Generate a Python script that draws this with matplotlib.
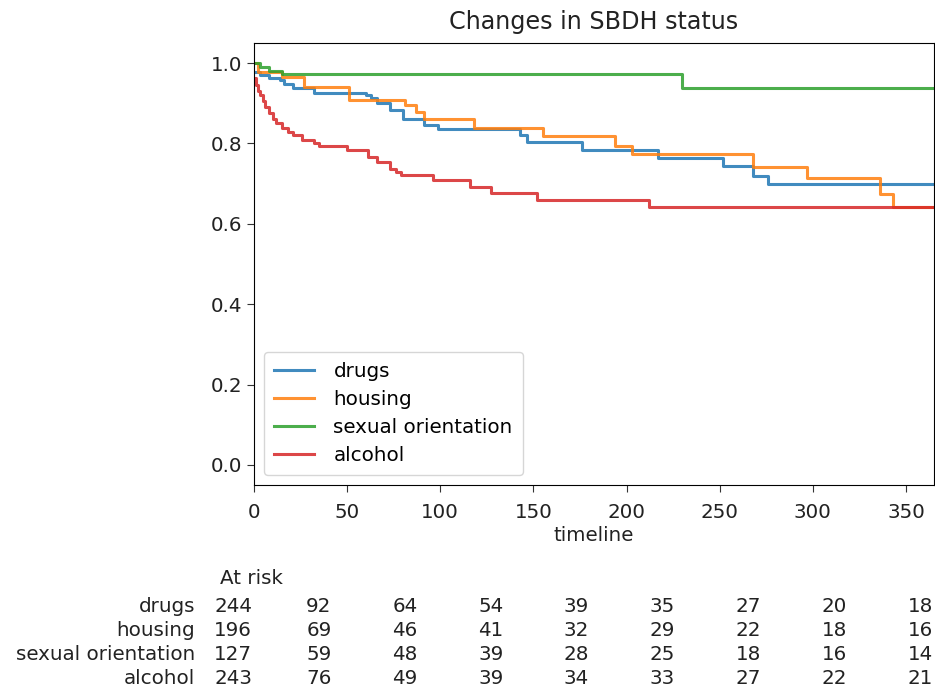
import matplotlib
matplotlib.use("Agg")
import matplotlib.pyplot as plt
import matplotlib.transforms as mtransforms

# survival curves (step points)
drugs_t = [0, 3, 8, 14, 16, 21, 32, 60, 63, 66, 73, 80, 91, 99, 143, 146.5, 176, 217, 252, 268, 276]
drugs_s = [0.978, 0.970, 0.962, 0.958, 0.949, 0.937, 0.926, 0.920, 0.912, 0.900, 0.883, 0.862,
           0.845, 0.835, 0.820, 0.804, 0.783, 0.765, 0.743, 0.718, 0.698]

housing_t = [0, 2, 15, 27, 51, 81, 87, 91, 118, 155, 194, 203, 268, 297, 336, 343]
housing_s = [1.0, 0.978, 0.966, 0.941, 0.908, 0.895, 0.879, 0.860, 0.839, 0.818, 0.793,
             0.775, 0.742, 0.715, 0.675, 0.642]

sexual_t = [0, 3, 8, 15, 230]
sexual_s = [1.0, 0.99, 0.98, 0.973, 0.937]

alcohol_t = [0, 1, 2, 3, 5, 6, 8, 10, 12, 15, 18, 21, 26, 32, 35, 50, 61, 66, 73, 76, 79,
             96, 116, 127, 152, 212]
alcohol_s = [0.962, 0.945, 0.930, 0.920, 0.905, 0.890, 0.875, 0.860, 0.850, 0.838, 0.828,
             0.820, 0.808, 0.800, 0.793, 0.783, 0.766, 0.754, 0.737, 0.729, 0.721, 0.708,
             0.692, 0.677, 0.660, 0.642]

t_end = 365

labels = ["drugs", "housing", "sexual orientation", "alcohol"]
colors = ["#1f77b4", "#ff7f0e", "#2ca02c", "#d62728"]

# at-risk table
at_risk = {
    "drugs": [244, 92, 64, 54, 39, 35, 27, 20, 18],
    "housing": [196, 69, 46, 41, 32, 29, 22, 18, 16],
    "sexual orientation": [127, 59, 48, 39, 28, 25, 18, 16, 14],
    "alcohol": [243, 76, 49, 39, 34, 33, 27, 22, 21],
}

fs = 14.3
plt.rcParams['font.size'] = fs
plt.rcParams['font.family'] = ['DejaVu Sans']

W, H = 935, 689
fig = plt.figure(figsize=(W / 100, H / 100), dpi=100)
ax = fig.add_axes([254 / W, 1 - 485 / H, (934 - 254) / W, (485 - 43) / H])

series = [(drugs_t, drugs_s), (housing_t, housing_s), (sexual_t, sexual_s), (alcohol_t, alcohol_s)]
for (t, s), lab, col in zip(series, labels, colors):
    ax.step(list(t) + [t_end], list(s) + [s[-1]], where='post', color=col, lw=2.2,
            alpha=0.85, label=lab)

ax.set_xlim(0, t_end)
ax.set_ylim(-0.05, 1.05)
ax.set_xticks(range(0, 351, 50))
ax.set_yticks([0.0, 0.2, 0.4, 0.6, 0.8, 1.0])
ax.tick_params(length=5, color='#333333', labelcolor='#222222')
ax.tick_params(axis='x', pad=8)
ax.set_title("Changes in SBDH status", pad=10, color='#222222')
ax.set_xlabel("timeline", labelpad=3, color='#222222')
leg = ax.legend(loc='lower left', borderpad=0.5, handlelength=2.0, labelspacing=0.45,
                handletextpad=1.0, fontsize=fs)

# at-risk counts below the axes
tr = mtransforms.blended_transform_factory(ax.transAxes, fig.transFigure)
col_x = [(233 + 85.9 * k - 254) / 680 for k in range(9)]
row_y = [1 - 607 / H, 1 - 631 / H, 1 - 655 / H, 1 - 678 / H]
fig.text(220 / W, 1 - 578 / H, "At risk", va='center', ha='left', color='#222222')
for name, yy in zip(labels, row_y):
    fig.text(195 / W, yy, name, ha='right', va='center', color='#222222')
    for x, v in zip(col_x, at_risk[name]):
        ax.text(x, yy, str(v), transform=tr, ha='center', va='center', clip_on=False,
                color='#222222')

fig.savefig("out.png", dpi=100)
